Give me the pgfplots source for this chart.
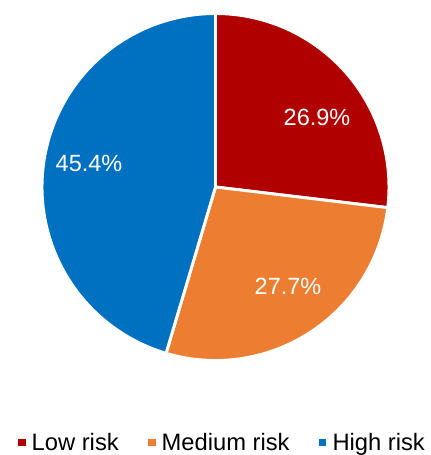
\documentclass[border=0pt]{standalone}
\usepackage{pgfplots}
\pgfplotsset{compat=1.18}
\usepackage{fontspec}
\setmainfont{Liberation Sans}
\definecolor{lowc}{RGB}{176,0,0}
\definecolor{medc}{RGB}{237,125,49}
\definecolor{highc}{RGB}{0,112,192}
% values (percent)
\def\vLow{26.9}
\def\vMed{27.7}
\def\vHigh{45.4}
\def\cx{215.5}
\def\cy{268}
\def\rr{173.5}
\pgfmathsetmacro{\aA}{90}
\pgfmathsetmacro{\aB}{90-3.6*\vLow}
\pgfmathsetmacro{\aC}{\aB-3.6*\vMed}
\pgfmathsetmacro{\aD}{\aC-3.6*\vHigh}
\begin{document}
\begin{tikzpicture}
\begin{axis}[
  x=0.75pt, y=0.75pt,
  xmin=0, xmax=430, ymin=0, ymax=455,
  hide axis, clip=false,
  at={(0,0)}, anchor=south west,
  legend columns=3,
  legend image code/.code={\fill[#1] (0pt,-2.4pt) rectangle (4.8pt,2.4pt);},
  legend style={at={(axis cs:221.5,13)}, anchor=center, draw=none, fill=none,
    font=\fontsize{17.8}{20}\selectfont, inner sep=0pt,
    nodes={inner sep=0pt, text depth=0pt},
    /tikz/every odd column/.append style={column sep=5pt},
    /tikz/every even column/.append style={column sep=22pt}},
]
\addplot[fill=lowc, draw=white, line width=2.2pt, domain=\aB:\aA, samples=80, variable=\t, forget plot]
  ({\cx+\rr*cos(t)},{\cy+\rr*sin(t)}) -- (axis cs:\cx,\cy) -- cycle;
\addplot[fill=medc, draw=white, line width=2.2pt, domain=\aC:\aB, samples=80, variable=\t, forget plot]
  ({\cx+\rr*cos(t)},{\cy+\rr*sin(t)}) -- (axis cs:\cx,\cy) -- cycle;
\addplot[fill=highc, draw=white, line width=2.2pt, domain=\aD:\aC, samples=120, variable=\t, forget plot]
  ({\cx+\rr*cos(t)},{\cy+\rr*sin(t)}) -- (axis cs:\cx,\cy) -- cycle;
\addlegendimage{lowc}\addlegendentry{Low risk}
\addlegendimage{medc}\addlegendentry{Medium risk}
\addlegendimage{highc}\addlegendentry{High risk}
\node[text=white, font=\fontsize{17.6}{20}\selectfont] at (axis cs:317,338) {26.9\%};
\node[text=white, font=\fontsize{17.6}{20}\selectfont] at (axis cs:288,169) {27.7\%};
\node[text=white, font=\fontsize{17.6}{20}\selectfont] at (axis cs:89,292) {45.4\%};
\end{axis}
\pgfresetboundingbox
\path[use as bounding box] (0,0) rectangle (322.5pt,341.25pt);
\end{tikzpicture}
\end{document}
